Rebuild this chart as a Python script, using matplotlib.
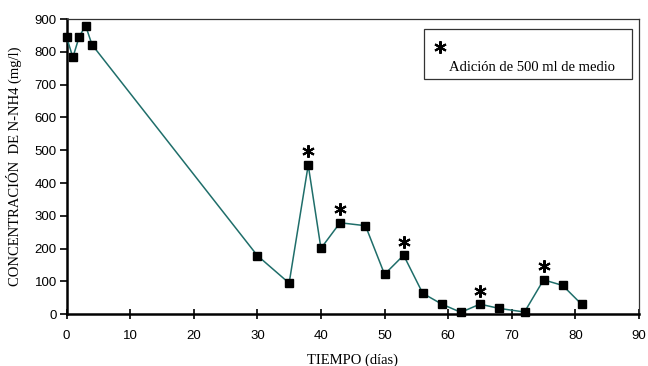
import numpy as np
import matplotlib
matplotlib.use("Agg")
import matplotlib.pyplot as plt
from matplotlib.transforms import offset_copy

# datos
dias = [0, 1, 2, 3, 4, 30, 35, 38, 40, 43, 47, 50, 53, 56, 59, 62, 65, 68, 72, 75, 78, 81]
nh4 = [846, 783, 846, 880, 822, 179, 95, 455, 201, 279, 270, 122, 180, 64, 31, 6, 31, 18, 7, 105, 88, 30]
# dias con adicion de medio (asterisco)
adicion = [38, 43, 53, 65, 75]

x_ticks = np.arange(0, 91, 10)
y_ticks = np.arange(0, 901, 100)

W, H = 648, 366
fig = plt.figure(figsize=(W / 100, H / 100), dpi=100)
ax = fig.add_axes([66.5 / W, 1 - 314.3 / H, (639 - 66.5) / W, (314.3 - 19) / H])

ax.plot(dias, nh4, color='#1f6e6a', lw=1.1, marker='s', ms=5.2,
        mfc='black', mec='black', zorder=3, clip_on=False)

# asteriscos sobre los puntos con adicion
ast_y = [nh4[dias.index(d)] for d in adicion]
trans = offset_copy(ax.transData, fig=fig, y=13.6, units='dots')
ax.plot(adicion, ast_y, ls='none', marker=(6, 2, 0), ms=9, mew=1.5,
        color='black', transform=trans, clip_on=False, zorder=4)

ax.set_xlim(0, 90)
ax.set_ylim(0, 900)
ax.set_xticks(x_ticks)
ax.set_yticks(y_ticks)
ax.tick_params(axis='both', labelsize=9.5, width=1.2, colors='black')
ax.tick_params(axis='x', direction='inout', length=7, pad=8)
ax.tick_params(axis='y', direction='out', length=5, pad=2)
for lbl in ax.get_xticklabels() + ax.get_yticklabels():
    lbl.set_family('Liberation Sans')

ax.spines['left'].set_linewidth(1.8)
ax.spines['bottom'].set_linewidth(1.8)
ax.spines['top'].set_linewidth(0.9)
ax.spines['right'].set_linewidth(0.9)
ax.spines['top'].set_color('#333333')
ax.spines['right'].set_color('#333333')

ax.set_xlabel('TIEMPO (días)', family='Liberation Serif', fontsize=10.5, labelpad=8)
ax.set_ylabel('CONCENTRACIÓN  DE N-NH4 (mg/l)', family='Liberation Serif', fontsize=10.5, labelpad=9)

# recuadro de leyenda (coordenadas de figura)
fig.lines.append(plt.Line2D([440 / W], [1 - 46.7 / H], transform=fig.transFigure, ls='none',
                            marker=(6, 2, 0), ms=9, mew=1.5, color='black'))
fig.text(449 / W, 1 - 71 / H, 'Adición de 500 ml de medio',
         family='Liberation Serif', fontsize=10.5, ha='left', va='baseline')
fig.patches.append(plt.Rectangle((424.3 / W, 1 - 79 / H), (632.3 - 424.3) / W, (79 - 29.3) / H,
                                 transform=fig.transFigure, fill=False, lw=0.9, ec='#333333'))

fig.savefig('out.png', dpi=100)
